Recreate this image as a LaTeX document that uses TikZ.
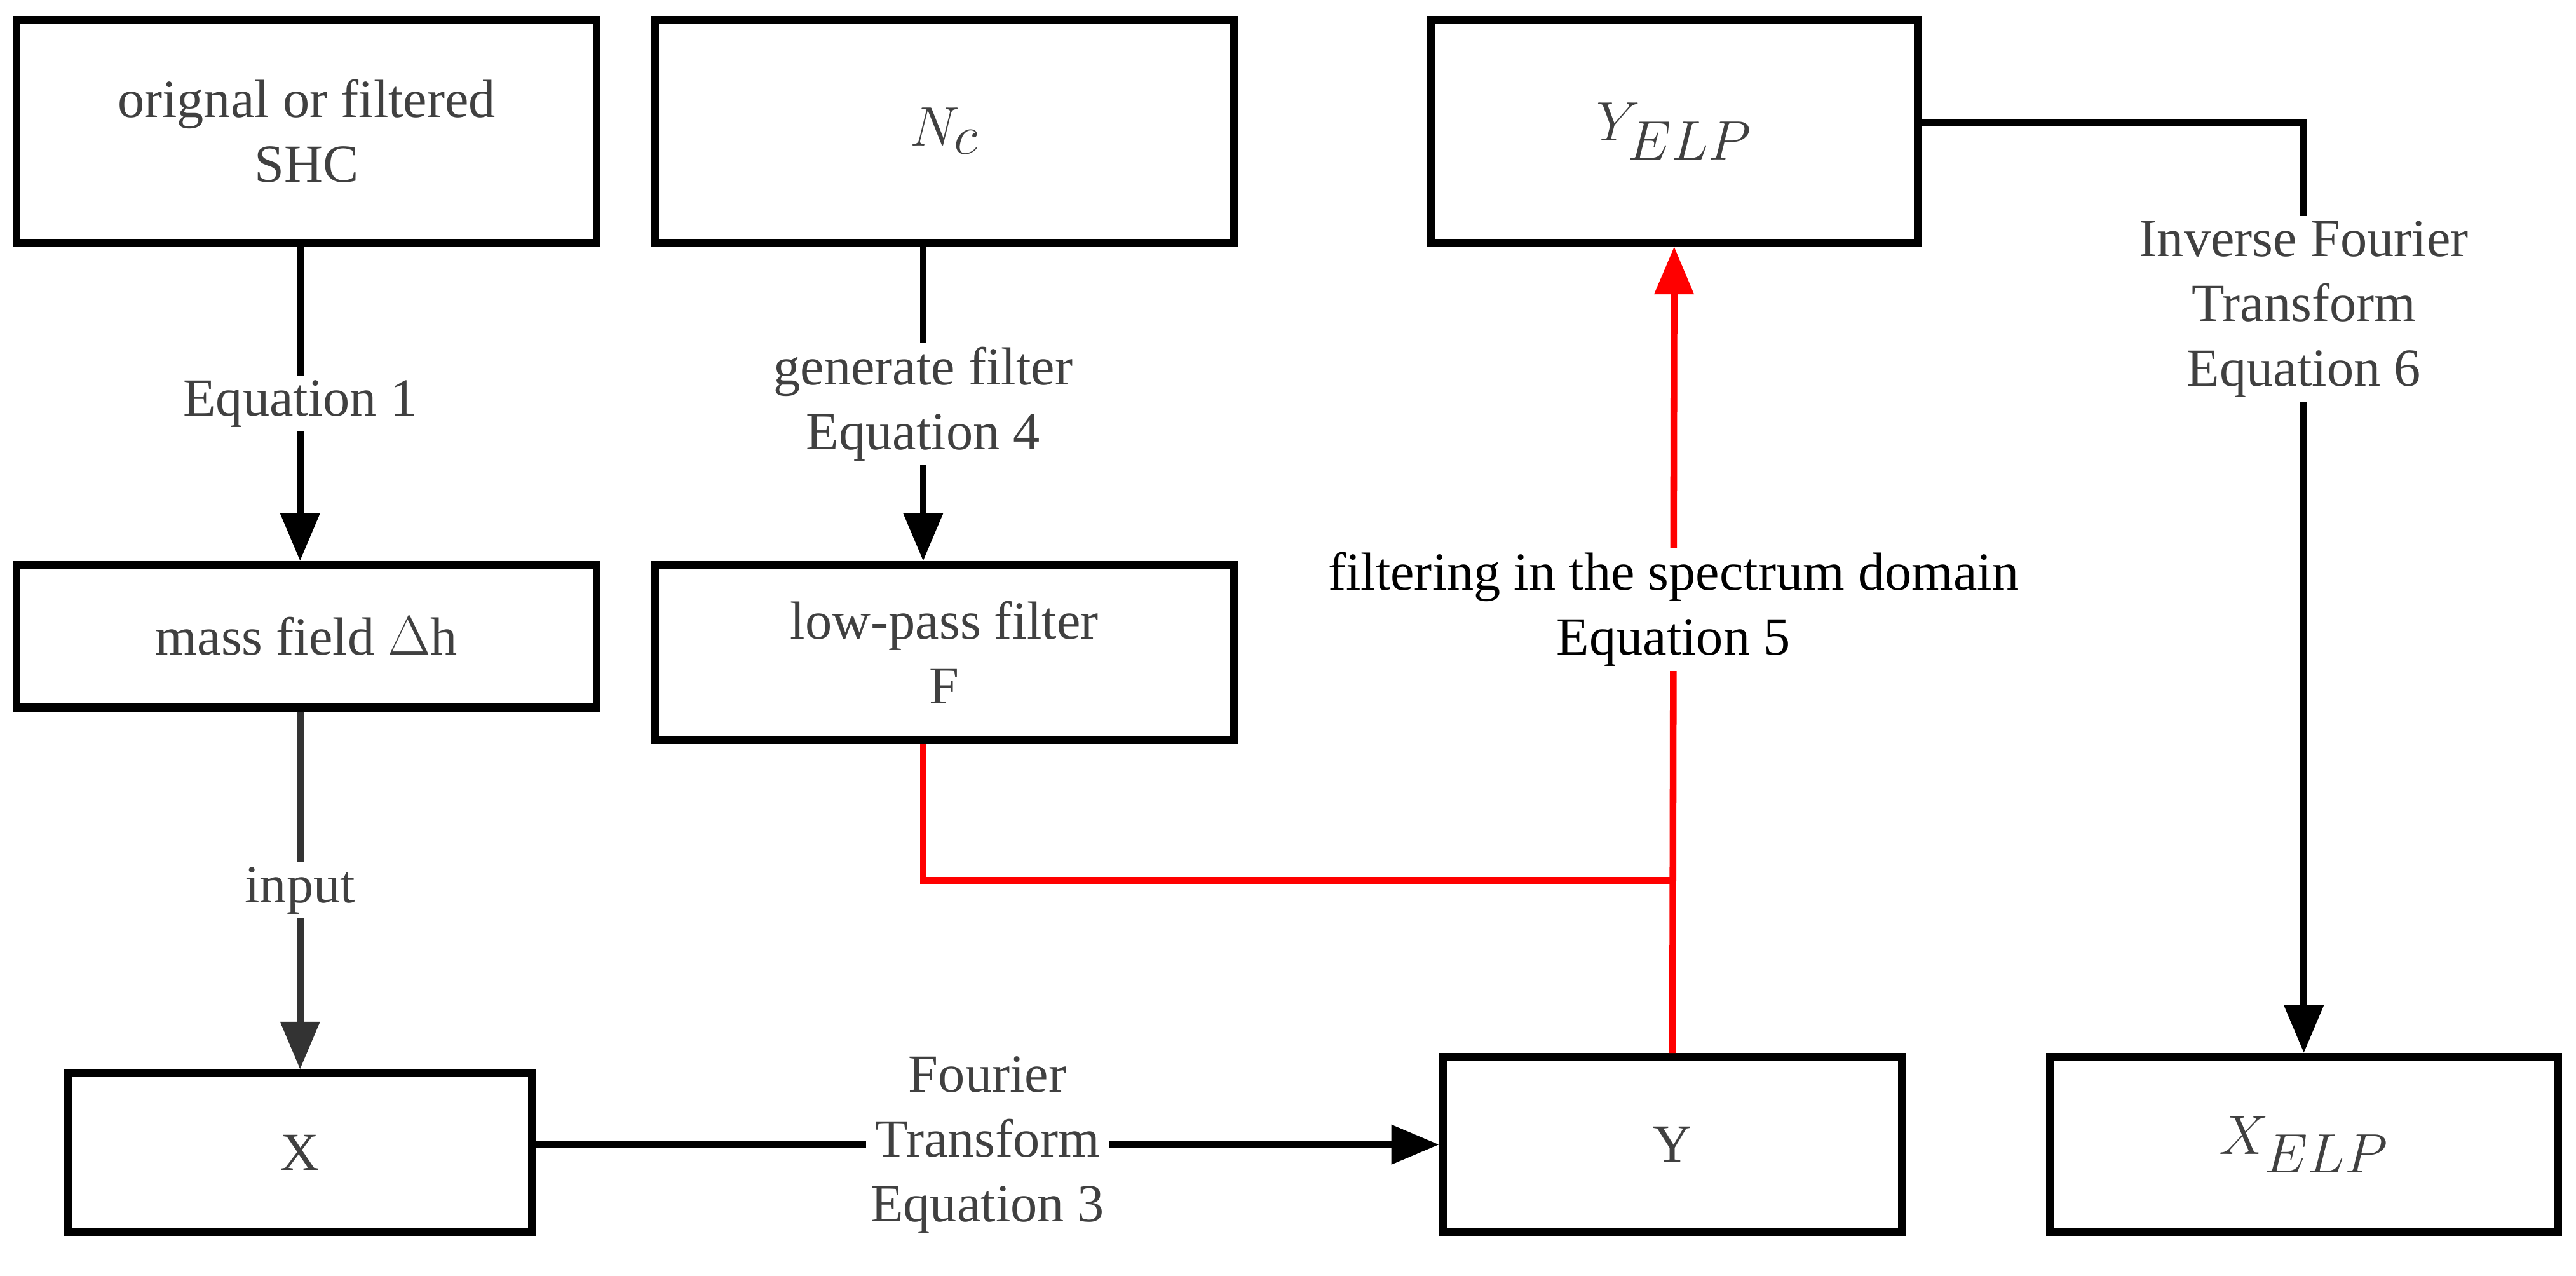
\documentclass[tikz,border=0pt]{standalone}
\usepackage{fontspec}
\setmainfont{Liberation Serif}
\usetikzlibrary{arrows.meta}
\begin{document}
\begin{tikzpicture}[x=0.0258cm,y=-0.0258cm,
  box/.style={draw,line width=3.5pt,inner sep=0pt,align=center,font=\fontsize{24}{29}\selectfont,text=black!75},
  lab/.style={fill=white,align=center,inner sep=2pt,font=\fontsize{24}{29}\selectfont,text=black!75},
  ln/.style={line width=3pt},
  arr/.style={ln,-{Triangle[length=0.75cm,width=0.6cm]}},
  mth/.style={font=\fontsize{40}{44}\selectfont}]
\useasboundingbox (0,0) rectangle (1571,778);
\node[box,minimum width=354*0.0258cm,minimum height=136*0.0258cm] (shc) at (187,80) {orignal or filtered\\SHC};
\node[box,minimum width=353*0.0258cm,minimum height=136*0.0258cm,mth] (nc) at (576,80) {$N_c$};
\node[box,minimum width=297*0.0258cm,minimum height=136*0.0258cm,mth] (yelp) at (1021,80) {$Y_{ELP}$};
\node[box,minimum width=354*0.0258cm,minimum height=87*0.0258cm] (mass) at (187,388) {mass field $\Delta$h};
\node[box,minimum width=353*0.0258cm,minimum height=107*0.0258cm] (lp) at (576,398) {low-pass filter\\F};
\node[box,minimum width=283*0.0258cm,minimum height=97*0.0258cm] (x) at (183,703) {X};
\node[box,minimum width=280*0.0258cm,minimum height=107*0.0258cm] (y) at (1020,698) {Y};
\node[box,minimum width=310*0.0258cm,minimum height=107*0.0258cm,mth] (xelp) at (1405,698) {$X_{ELP}$};
\coordinate (c1) at (563,537);
\coordinate (c2) at (1020,537);
\coordinate (c3) at (1405,75);
\draw[arr] (shc.south -| 183,0) -- node[lab]{Equation 1} (mass.north -| 183,0);
\draw[arr] (nc.south -| 563,0) -- node[lab]{generate filter\\Equation 4} (lp.north -| 563,0);
\draw[arr,black!80] (mass.south -| 183,0) -- node[lab]{input} (x.north -| 183,0);
\draw[arr] (x.east |- y.west) -- node[lab]{Fourier\\Transform\\Equation 3} (y.west);
\draw[ln,red] (lp.south -| 563,0) -- (c1) -- (c2);
\draw[arr,red] (y.north) -- node[lab,pos=0.55,text=black]{filtering in the spectrum domain\\Equation 5} (yelp.south);
\draw[arr] (yelp.east |- c3) -- (c3) -- node[lab,pos=0.2]{Inverse Fourier\\Transform\\Equation 6} (xelp.north);
\end{tikzpicture}
\end{document}
